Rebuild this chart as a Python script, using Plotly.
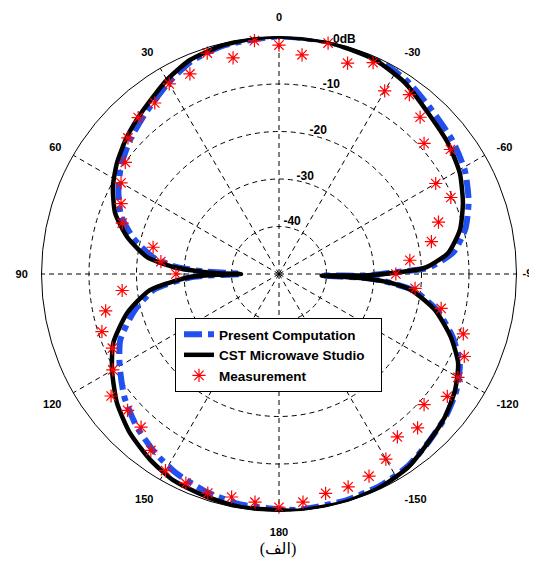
import plotly.graph_objects as go

# --- Present Computation (blue dash-dot) ---
comp_theta = [0, 13.7, 22.6, 30, 39.7, 48, 55.6, 62.3, 69.6, 76.3, 82.7, 86.2, 88, 90,
              91.9, 97.1, 104.4, 112.6, 119.9, 128.5, 136.9, 145.3, 152.8, 162.1, 170.5, 180,
              184.6, 196.1, 205.6, 213.8, 221.4, 229.3, 236.6, 243.6, 249.9, 257, 263.1, 267, 268,
              269, 271, 272.4, 277.1, 283.7, 291.1, 299.2, 307.8, 317.2, 326.6, 335.8, 348.1, 360]
comp_db = [0, -0.5, -1.6, -3.5, -6.0, -7.8, -9.7, -11.8, -14.5, -18.5, -23.5, -28.5, -34, -42,
           -32, -23.5, -18.5, -13.8, -11.3, -8.4, -6.1, -4.2, -2.8, -1.6, -0.8, -0.5,
           -0.2, -0.3, -0.6, -1.3, -2.6, -3.8, -5.3, -7.5, -11.0, -15.8, -21.5, -30, -41,
           -32, -25, -18.5, -13.0, -9.6, -7.2, -5.2, -3.9, -2.8, -1.2, -0.3, 0, 0]

# --- CST Microwave Studio (black solid) ---
cst_theta = [0, 6, 13.7, 22.6, 30, 39.7, 48, 55.6, 62.3, 69.6, 76.3, 82.7, 86.2, 88, 89.2, 90,
             90.8, 91.9, 97.1, 104.4, 112.6, 119.9, 128.5, 136.9, 145.3, 152.8, 162.1, 170.5, 180,
             184.6, 196.1, 205.6, 213.8, 221.4, 229.3, 236.6, 243.6, 249.9, 257, 263.1, 265.5, 267, 268,
             269, 270.5, 272.4, 277.1, 283.7, 291.1, 299.2, 307.8, 317.2, 326.6, 335.8, 348.1, 360]
cst_db = [0, -0.1, -0.4, -1.2, -2.8, -5.2, -6.9, -8.65, -10.5, -13.2, -17.1, -22, -27.7, -33, -37, -42,
          -37, -31.3, -22.6, -17, -12.2, -9.45, -6.4, -4.1, -2.4, -1.2, -0.7, -0.3, -0.3,
          0, 0, -0.3, -1.1, -2.6, -3.9, -5.6, -7.9, -11.5, -16.3, -22, -26.5, -32, -41,
          -32, -26, -19.3, -14.1, -10.8, -8.5, -6.4, -5.0, -3.8, -1.8, -0.6, -0.1, 0]

# --- Measurement (red stars), every 6 degrees ---
meas_theta = list(range(0, 360, 6))
meas_db = [-1.8, -0.6, -3.5, -1.1, -3.9, -3.8, -5.5, -5.7, -7.2, -10.0,
           -11.6, -13.6, -15.3, -22.9, -25.0, -28.3, -16.8, -12.7, -10.8, -11.6,
           -9.6, -6.3, -7.1, -6.6, -4.1, -2.2, -1.8, -1.5, -2.0, -1.7,
           -0.9, -1.7, -2.8, -2.9, -3.4, -5.0, -7.6, -6.4, -8.9, -6.2,
           -6.5, -7.3, -9.2, -15.1, -21.2, -25.4, -22.3, -17.2, -14.7, -10.4,
           -11.9, -5.4, -8.9, -5.6, -3.3, -5.5, -1.3, -3.3, -0.3, -3.6]

angle_ticks = [0, 30, 60, 90, 120, 150, 180, 210, 240, 270, 300, 330]
angle_labels = ["0", "30", "60", "90", "120", "150", "180", "-150", "-120", "", "-60", "-30"]
# the -90 label sits at the far right edge (partly cut off in the original); drawn as text at the rim
edge_label_theta = 270
edge_label_text = "&nbsp;&nbsp;-90"
radial_ticks = [-40, -30, -20, -10, 0]
radial_labels = ["-40", "-30", "-20", "-10", "0dB"]

# radial tick labels sit just above each ring, ~16 deg clockwise from the top
label_angle = -16

bold11 = dict(family="Liberation Sans, Arial", size=11, color="black", weight="bold")

fig = go.Figure()
fig.add_trace(go.Scatterpolar(
    r=comp_db, theta=comp_theta, mode="lines", name="<b>Present Computation</b>",
    line=dict(color="#2050F0", width=6, dash="18px,6px,6px,6px", shape="spline", smoothing=0.6),
))
fig.add_trace(go.Scatterpolar(
    r=cst_db, theta=cst_theta, mode="lines", name="<b>CST Microwave Studio</b>&nbsp;&nbsp;&nbsp;",
    line=dict(color="black", width=4.5, shape="spline", smoothing=0.6),
))
fig.add_trace(go.Scatterpolar(
    r=meas_db, theta=meas_theta, mode="markers", name="<b>Measurement</b>",
    marker=dict(symbol="asterisk-open", size=11, color="red", line=dict(color="red", width=1.2)),
))
fig.add_trace(go.Scatterpolar(
    r=radial_ticks, theta=[label_angle] * len(radial_ticks),
    mode="text", text=radial_labels, textposition="top center", showlegend=False,
    cliponaxis=False, hoverinfo="skip",
    textfont=dict(family="Liberation Sans, Arial", size=12, color="black", weight="bold"),
))
fig.add_trace(go.Scatterpolar(
    r=[0], theta=[edge_label_theta], mode="text", text=[edge_label_text],
    textposition="middle right", showlegend=False, cliponaxis=False, hoverinfo="skip",
    textfont=bold11,
))

# page body has an 8px margin, so figure coordinates = picture coordinates - 8
W, H = 537, 556
cx, cy, R = 271, 266, 237.5
fig.update_layout(
    width=W, height=H,
    margin=dict(l=0, r=0, t=0, b=0),
    paper_bgcolor="white",
    plot_bgcolor="white",
    font=dict(family="Liberation Sans, Arial", size=11, color="black"),
    polar=dict(
        domain=dict(x=[(cx - R) / W, (cx + R) / W], y=[(H - cy - R) / H, (H - cy + R) / H]),
        bgcolor="white",
        angularaxis=dict(
            rotation=90, direction="counterclockwise",
            tickvals=angle_ticks, ticktext=angle_labels,
            showline=True, linecolor="black", linewidth=1,
            showgrid=True, gridcolor="black", gridwidth=1, griddash="5px,4px",
            ticks="outside", ticklen=11, tickcolor="rgba(0,0,0,0)",
            tickfont=bold11,
        ),
        radialaxis=dict(
            range=[-50, 0], tickvals=radial_ticks,
            showticklabels=False, showline=False, ticks="",
            showgrid=True, gridcolor="black", gridwidth=1, griddash="5px,4px",
        ),
    ),
    legend=dict(
        x=167 / W, y=(H - 310) / H, xanchor="left", yanchor="top",
        bgcolor="white", bordercolor="black", borderwidth=1,
        font=dict(family="Liberation Sans, Arial", size=13.5, color="black"),
        tracegroupgap=0, itemwidth=30, indentation=3,
    ),
    showlegend=True,
    title=dict(text="(الف)", x=270 / W, xanchor="center", y=16 / H, yanchor="middle",
               font=dict(family="Times New Roman, DejaVu Sans", size=16, color="black")),
)

fig.write_html("out.html")
